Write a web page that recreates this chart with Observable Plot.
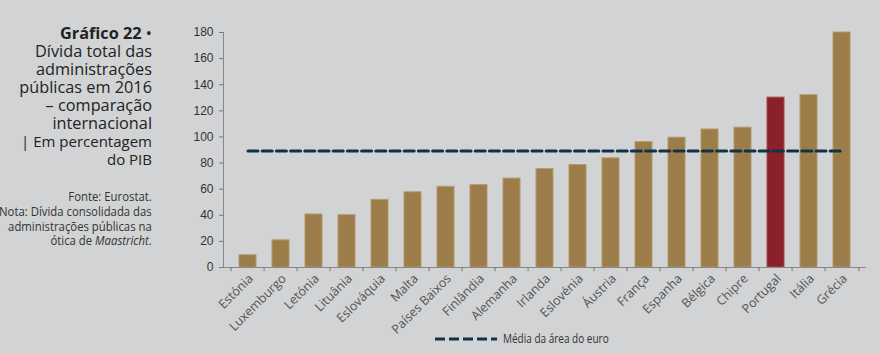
<!DOCTYPE html>
<html>
<head>
<meta charset="utf-8">
<script src="https://cdn.jsdelivr.net/npm/d3@7"></script>
<script src="https://cdn.jsdelivr.net/npm/@observablehq/plot@0.6"></script>
<style>
  html, body { margin: 0; padding: 0; background: #d1d3d4; }
  #wrap { position: relative; width: 880px; height: 354px; overflow: hidden; }
  #side { position: absolute; left: 0; top: 0; width: 152px; height: 354px; font-family: "Open Sans", sans-serif; color: #222; }
  #side .t { position: absolute; right: 0; top: 24px; text-align: right; font-size: 16.3px; line-height: 18px; white-space: nowrap; }
  #side .t b { font-weight: 700; }
  #side .t .s { font-size: 15px; }
  #side .n { position: absolute; right: 0; top: 189px; text-align: right; font-size: 13.5px; line-height: 14.8px; color: #333; white-space: nowrap; transform: scaleX(0.84); transform-origin: right top; }
  #legend { position: absolute; left: 435px; top: 330px; font-family: "Open Sans", sans-serif; font-size: 12.5px; color: #333; display: flex; align-items: center; gap: 6px; white-space: nowrap; }
  #legend span { display: inline-block; transform: scaleX(0.8); transform-origin: left center; }
  #chart { position: absolute; left: 0; top: 0; }
</style>
</head>
<body>
<div id="wrap">
  <div id="chart"></div>
  <div id="side">
    <div class="t"><b>Gráfico 22</b> •<br>Dívida total das<br>administrações<br>públicas em 2016<br>– comparação<br>internacional<br><span class="s">| Em percentagem<br>do PIB</span></div>
    <div class="n">Fonte: Eurostat.<br>Nota: Dívida consolidada das<br>administrações públicas na<br>ótica de <i>Maastricht</i>.</div>
  </div>
  <div id="legend"><svg width="62" height="6"><line x1="0" y1="3" x2="62" y2="3" stroke="#0e3349" stroke-width="3" stroke-dasharray="10,4"/></svg><span>Média da área do euro</span></div>
</div>
<script>
const countries = ["Estónia","Luxemburgo","Letónia","Lituânia","Eslováquia","Malta","Países Baixos","Finlândia","Alemanha","Irlanda","Eslovénia","Áustria","França","Espanha","Bélgica","Chipre","Portugal","Itália","Grécia"];
const debt = [9.4, 20.8, 40.6, 40.1, 51.8, 57.6, 61.8, 63.1, 68.1, 75.4, 78.5, 83.6, 96.0, 99.4, 105.7, 107.1, 130.1, 132.0, 180.0];
const euroMean = 89.2;
const highlight = "Portugal";
const yTicks = [0, 20, 40, 60, 80, 100, 120, 140, 160, 180];

const data = countries.map((c, i) => ({country: c, value: debt[i]}));
const meanLine = [{country: countries[0], value: euroMean}, {country: countries[countries.length - 1], value: euroMean}];

const W = 880, H = 354, mL = 223, mR = 15, mT = 32, mB = 87;
const step = (W - mL - mR) / countries.length;

const chart = Plot.plot({
  width: W, height: H,
  marginLeft: mL, marginRight: mR, marginTop: mT, marginBottom: mB,
  style: {background: "transparent", fontFamily: "Liberation Sans, Arial, sans-serif", fontSize: "12px", color: "#333"},
  x: {domain: countries, paddingInner: 0.5, paddingOuter: 0.25, label: null},
  y: {domain: [0, 180], label: null},
  marks: [
    Plot.barY(data, {x: "country", y: "value", fill: d => d.country === highlight ? "#8a2029" : "#9c7d4a", stroke: d => d.country === highlight ? "#a84a50" : "#b59a6b", strokeWidth: 1}),
    Plot.line(meanLine, {x: "country", y: "value", stroke: "#0e3349", strokeWidth: 3, strokeDasharray: "10,4.2"}),
    Plot.axisY({ticks: yTicks, tickSize: 4, tickPadding: 6, stroke: "#777", fill: "#333", fontSize: 12}),
    Plot.frame({anchor: "left", stroke: "#888"}),
    Plot.frame({anchor: "bottom", stroke: "#888"}),
    Plot.ruleX(countries, {x: d => d, y1: 0, y2: -3.2, dx: -step / 2, stroke: "#777"}),
    Plot.ruleX([countries[countries.length - 1]], {x: d => d, y1: 0, y2: -3.2, dx: step / 2, stroke: "#777"}),
    Plot.axisX({tickSize: 0, tickRotate: -45, tickPadding: 9, dx: 3, fontFamily: "Open Sans, sans-serif", fontSize: 12.5, fill: "#555"})
  ]
});
document.getElementById("chart").appendChild(chart);
</script>
</body>
</html>
